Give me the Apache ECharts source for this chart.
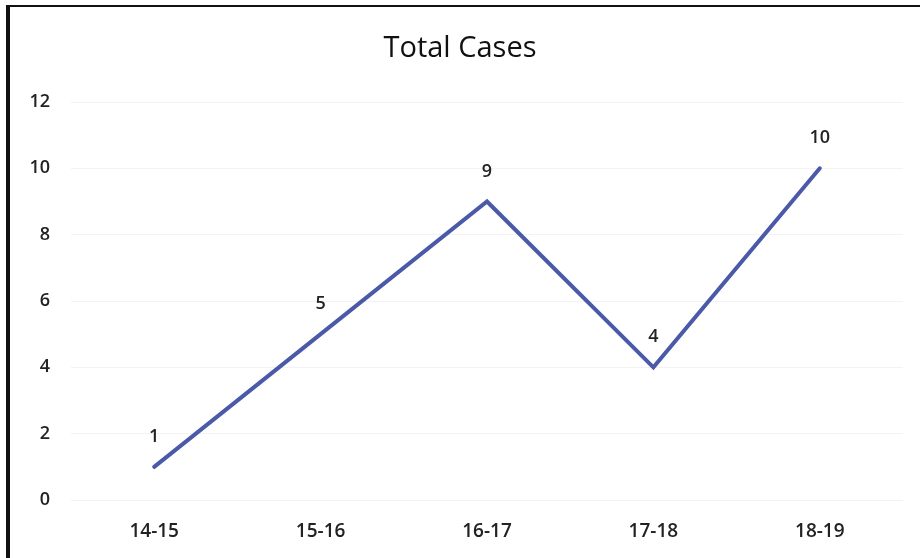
<!DOCTYPE html>
<html><head><meta charset="utf-8">
<script src="https://cdn.jsdelivr.net/npm/echarts@6/dist/echarts.min.js"></script>
<style>
html,body{margin:0;padding:0;background:#fff;}
#frame{position:absolute;left:6px;top:5px;width:930px;height:560px;border-left:4px solid #111;border-top:2px solid #111;}
#c{position:absolute;left:0;top:0;width:920px;height:558px;}
</style></head>
<body>
<div id="frame"></div>
<div id="c"></div>
<script>
const categories = ['14-15','15-16','16-17','17-18','18-19'];
const totalCases = [1,5,9,4,10];
const yTicks = {min:0, max:12, interval:2};

const chart = echarts.init(document.getElementById('c'));
const font = "'Open Sans', 'Noto Sans', sans-serif";
chart.setOption({
  backgroundColor: 'transparent',
  title: {text:'Total Cases', left:'center', top:29,
    textStyle:{fontFamily:font, fontSize:29, fontWeight:'normal', color:'#111'}},
  grid:{left:71, right:17, top:102, bottom:58},
  xAxis:{type:'category', data:categories, boundaryGap:true,
    axisLine:{show:false}, axisTick:{show:false},
    axisLabel:{margin:22, fontFamily:font, fontSize:19, fontWeight:600, color:'#222'}},
  yAxis:{type:'value', min:yTicks.min, max:yTicks.max, interval:yTicks.interval,
    axisLine:{show:false}, axisTick:{show:false},
    splitLine:{lineStyle:{color:'#f3f3f3', width:1}},
    axisLabel:{margin:21, fontFamily:font, fontSize:18, fontWeight:600, color:'#222'}},
  series:[{type:'line', data:totalCases, symbol:'circle', symbolSize:2, showSymbol:true,
    itemStyle:{color:'rgba(74,90,168,0)', borderWidth:0},
    lineStyle:{color:'#4a5aa8', width:4, cap:'round', join:'miter'},
    label:{show:true, position:'top', distance:20, fontFamily:font, fontSize:18, fontWeight:600, color:'#222'}}],
  animation:false
});
</script>
</body></html>
